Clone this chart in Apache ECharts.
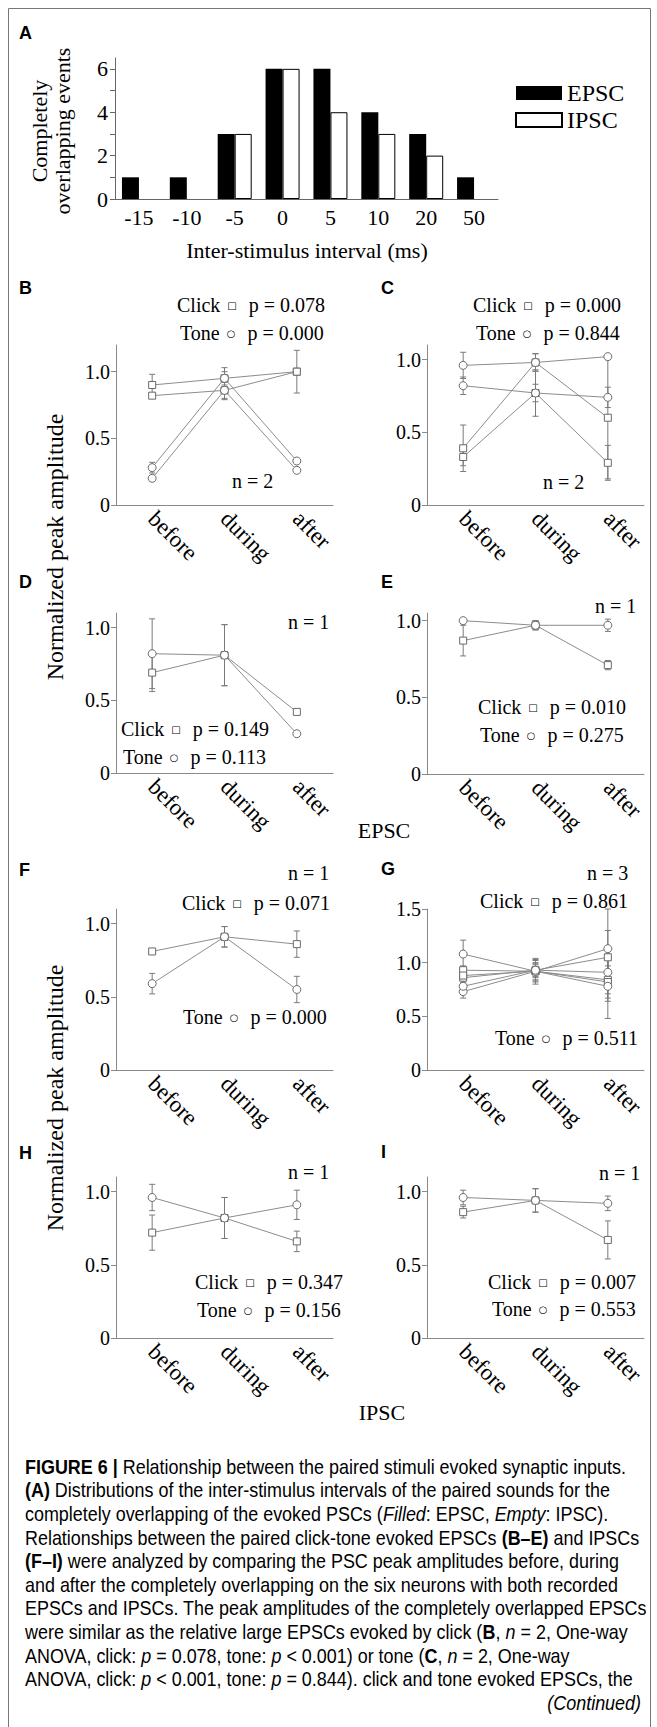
<!DOCTYPE html>
<html>
<head>
<meta charset="utf-8">
<script src="https://cdn.jsdelivr.net/npm/echarts@6/dist/echarts.min.js"></script>
<style>
html, body { margin: 0; padding: 0; background: #fff; }
#fig { width: 657px; height: 1727px; }
</style>
</head>
<body>
<div id="fig"></div>
<script>
// panel A: completely overlapping events per inter-stimulus interval
var intervals = ['-15', '-10', '-5', '0', '5', '10', '20', '50'];
var epscCounts = [1, 1, 3, 6, 6, 4, 3, 1];
var ipscCounts = [0, 0, 3, 6, 4, 3, 2, 0];

var phases = ['before', 'during', 'after'];

// panels B-I: normalized peak amplitude (one row per neuron) and error
var bClick = [[0.90, 0.95, 1.00], [0.82, 0.86, 1.00]];
var bClickErr = [[0.08, 0.08, 0.16], [0.02, 0.07, 0.02]];
var bTone = [[0.28, 0.95, 0.33], [0.20, 0.86, 0.26]];
var bToneErr = [[0.04, 0.05, 0.01], [0.02, 0.06, 0.01]];

var cClick = [[0.39, 0.98, 0.60], [0.33, 0.77, 0.29]];
var cClickErr = [[0.16, 0.06, 0.42], [0.06, 0.16, 0.12]];
var cTone = [[0.96, 0.98, 1.02], [0.82, 0.77, 0.74]];
var cToneErr = [[0.09, 0.06, 0.01], [0.06, 0.06, 0.07]];

var dClick = [[0.69, 0.81, 0.42]];
var dClickErr = [[0.13, 0.21, 0]];
var dTone = [[0.82, 0.81, 0.27]];
var dToneErr = [[0.24, 0.21, 0]];

var eClick = [[0.87, 0.97, 0.71]];
var eClickErr = [[0.10, 0.03, 0.03]];
var eTone = [[1.00, 0.97, 0.97]];
var eToneErr = [[0, 0.03, 0.04]];

var fClick = [[0.81, 0.91, 0.86]];
var fClickErr = [[0.02, 0.07, 0.09]];
var fTone = [[0.59, 0.91, 0.55]];
var fToneErr = [[0.07, 0.07, 0.09]];

var gClick = [[0.93, 0.92, 0.84], [0.86, 0.93, 1.05], [0.88, 0.92, 0.82]];
var gClickErr = [[0.04, 0.08, 0.20], [0.05, 0.10, 0.25], [0.03, 0.06, 0.15]];
var gTone = [[1.08, 0.92, 0.78], [0.73, 0.92, 1.13], [0.78, 0.93, 0.91]];
var gToneErr = [[0.13, 0.10, 0.30], [0.06, 0.12, 0.37], [0.04, 0.06, 0.20]];

var hClick = [[0.72, 0.82, 0.66]];
var hClickErr = [[0.12, 0.14, 0.07]];
var hTone = [[0.96, 0.82, 0.91]];
var hToneErr = [[0.09, 0.14, 0.10]];

var iClick = [[0.86, 0.94, 0.67]];
var iClickErr = [[0.04, 0.08, 0.13]];
var iTone = [[0.96, 0.94, 0.92]];
var iToneErr = [[0.05, 0.08, 0.05]];

// p values / n per panel
var pClick = ['0.078', '0.000', '0.149', '0.010', '0.071', '0.861', '0.347', '0.007'];
var pTone = ['0.000', '0.844', '0.113', '0.275', '0.000', '0.511', '0.156', '0.553'];
var nCells = [2, 2, 1, 1, 1, 3, 1, 1];

var SERIF = '"Liberation Serif", "Times New Roman", serif';
var SANS = '"Liberation Sans", Arial, sans-serif';
var AXIS = '#8a8a8a';

// layout of the small panels (B..I)
var panels = [
    { left: 116, top: 345, h: 160, max: 1.2, click: bClick, clickErr: bClickErr, tone: bTone, toneErr: bToneErr },
    { left: 427, top: 345, h: 160, max: 1.1, click: cClick, clickErr: cClickErr, tone: cTone, toneErr: cToneErr },
    { left: 116, top: 613, h: 160, max: 1.1, click: dClick, clickErr: dClickErr, tone: dTone, toneErr: dToneErr },
    { left: 427, top: 613, h: 161, max: 1.05, click: eClick, clickErr: eClickErr, tone: eTone, toneErr: eToneErr },
    { left: 116, top: 909, h: 161, max: 1.1, click: fClick, clickErr: fClickErr, tone: fTone, toneErr: fToneErr },
    { left: 427, top: 909, h: 161, max: 1.5, click: gClick, clickErr: gClickErr, tone: gTone, toneErr: gToneErr },
    { left: 116, top: 1177, h: 161, max: 1.1, click: hClick, clickErr: hClickErr, tone: hTone, toneErr: hToneErr },
    { left: 427, top: 1177, h: 161, max: 1.1, click: iClick, clickErr: iClickErr, tone: iTone, toneErr: iToneErr }
];

// where the stats texts go: [clickX, clickY, toneX, toneY, nX, nY]
var statPos = [
    [177, 305, 180, 333, 232, 481],
    [473, 305, 476, 333, 543, 482],
    [121, 729, 123, 757, 288, 622],
    [478, 707, 480, 735, 595, 606],
    [182, 903, 183, 1017, 288, 873],
    [480, 901, 495, 1038, 587, 873],
    [195, 1282, 197, 1310, 288, 1172],
    [488, 1282, 492, 1309, 599, 1173]
];

var captionLines = [
    '{b|FIGURE 6 |}{r| Relationship between the paired stimuli evoked synaptic inputs.}',
    '{b|(A)}{r| Distributions of the inter-stimulus intervals of the paired sounds for the}',
    '{r|completely overlapping of the evoked PSCs (}{i|Filled}{r|: EPSC, }{i|Empty}{r|: IPSC).}',
    '{r|Relationships between the paired click-tone evoked EPSCs }{b|(B–E)}{r| and IPSCs}',
    '{b|(F–I)}{r| were analyzed by comparing the PSC peak amplitudes before, during}',
    '{r|and after the completely overlapping on the six neurons with both recorded}',
    '{r|EPSCs and IPSCs. The peak amplitudes of the completely overlapped EPSCs}',
    '{r|were similar as the relative large EPSCs evoked by click (}{b|B}{r|, }{i|n}{r| = 2, One-way}',
    '{r|ANOVA, click: }{i|p}{r| = 0.078, tone: }{i|p}{r| < 0.001) or tone (}{b|C}{r|, }{i|n}{r| = 2, One-way}',
    '{r|ANOVA, click: }{i|p}{r| < 0.001, tone: }{i|p}{r| = 0.844). click and tone evoked EPSCs, the}'
];

var chart = echarts.init(document.getElementById('fig'), null, { renderer: 'svg' });

var grids = [{ left: 115, top: 58, width: 383, height: 141, outerBoundsMode: 'none' }];
var xAxes = [{
    type: 'category', gridIndex: 0, data: intervals,
    axisLine: { lineStyle: { color: '#666' } },
    axisTick: { show: false },
    axisLabel: { fontFamily: SERIF, fontSize: 22, color: '#000', margin: 7, interval: 0 }
}];
var yAxes = [{
    type: 'value', gridIndex: 0, min: 0, max: 6.5,
    splitLine: { show: false },
    axisLine: { show: true, lineStyle: { color: '#666' } },
    axisTick: { show: true, length: 5, customValues: [0, 1, 2, 3, 4, 5, 6], lineStyle: { color: '#666' } },
    axisLabel: { customValues: [0, 2, 4, 6], fontFamily: SERIF, fontSize: 22, color: '#000', margin: 7 }
}];
var series = [
    { type: 'bar', name: 'EPSC', xAxisIndex: 0, yAxisIndex: 0, data: epscCounts, barWidth: 17, barGap: '0%',
      itemStyle: { color: '#000' } },
    { type: 'bar', name: 'IPSC', xAxisIndex: 0, yAxisIndex: 0, data: ipscCounts.map(function (v) { return v || '-'; }),
      barWidth: 17, barGap: '0%', itemStyle: { color: '#fff', borderColor: '#000', borderWidth: 1 } }
];

function errorSeries(gi, vals, errs) {
    return {
        type: 'custom', xAxisIndex: gi, yAxisIndex: gi, z: 1, silent: true,
        encode: { x: 0, y: [1, 2] },
        data: vals.map(function (v, i) { return [i, v - errs[i], v + errs[i]]; }),
        renderItem: function (params, api) {
            var lo = api.coord([api.value(0), api.value(1)]);
            var hi = api.coord([api.value(0), api.value(2)]);
            var st = { stroke: '#7a7a7a', lineWidth: 1 };
            return { type: 'group', children: [
                { type: 'line', shape: { x1: lo[0], y1: lo[1], x2: hi[0], y2: hi[1] }, style: st },
                { type: 'line', shape: { x1: lo[0] - 3, y1: lo[1], x2: lo[0] + 3, y2: lo[1] }, style: st },
                { type: 'line', shape: { x1: hi[0] - 3, y1: hi[1], x2: hi[0] + 3, y2: hi[1] }, style: st }
            ] };
        }
    };
}

function lineSeries(gi, vals, symbol) {
    return {
        type: 'line', xAxisIndex: gi, yAxisIndex: gi, data: vals, z: 3, silent: true,
        symbol: symbol, symbolSize: symbol === 'rect' ? 7 : 8, showAllSymbol: true,
        lineStyle: { color: '#8c8c8c', width: 1 },
        itemStyle: { color: '#fff', borderColor: '#6a6a6a', borderWidth: 1 }
    };
}

panels.forEach(function (p, k) {
    var gi = k + 1;
    grids.push({ left: p.left, top: p.top, width: 217, height: p.h, outerBoundsMode: 'none' });
    var ticks = p.max >= 1.5 ? [0, 0.5, 1, 1.5] : [0, 0.5, 1];
    xAxes.push({
        type: 'category', gridIndex: gi, data: phases, boundaryGap: true,
        axisLine: { lineStyle: { color: AXIS } },
        axisTick: { alignWithLabel: true, length: 5, lineStyle: { color: AXIS } },
        axisLabel: { rotate: -45, margin: 10, interval: 0, fontFamily: SERIF, fontSize: 23, color: '#000' }
    });
    yAxes.push({
        type: 'value', gridIndex: gi, min: 0, max: p.max,
        splitLine: { show: false },
        axisLine: { show: true, lineStyle: { color: AXIS } },
        axisTick: { show: true, length: 5, customValues: ticks, lineStyle: { color: AXIS } },
        axisLabel: {
            customValues: ticks, fontFamily: SERIF, fontSize: 20, color: '#000', margin: 6,
            formatter: function (v) { return v === 0 ? '0' : v.toFixed(1); }
        }
    });
    p.click.forEach(function (row, r) {
        series.push(errorSeries(gi, row, p.clickErr[r]));
        series.push(lineSeries(gi, row, 'rect'));
    });
    p.tone.forEach(function (row, r) {
        series.push(errorSeries(gi, row, p.toneErr[r]));
        series.push(lineSeries(gi, row, 'circle'));
    });
});

function txt(x, y, text, extra) {
    var st = { text: text, fontFamily: SERIF, fontSize: 20, fill: '#000',
               align: 'left', verticalAlign: 'middle', textAlign: 'left', textVerticalAlign: 'middle' };
    for (var key in extra) st[key] = extra[key];
    return { type: 'text', x: x, y: y, silent: true, style: st };
}
function vtxt(x, y, text, size) {
    var el = txt(x, y, text, { align: 'center', textAlign: 'center', fontSize: size });
    el.rotation = Math.PI / 2;
    return el;
}
var symRich = {
    t: { fontFamily: SERIF, fontSize: 20, color: '#000' },
    s: { fontFamily: '"DejaVu Sans", sans-serif', fontSize: 10, color: '#333', padding: [0, 2, 0, 2] }
};
function statTxt(x, y, label, sym, pv) {
    return txt(x, y, '{t|' + label + ' }{s|' + sym + '}{t|  p = ' + pv + '}', { rich: symRich });
}

var graphics = [
    { type: 'rect', silent: true, shape: { x: 8.5, y: 8.5, width: 642, height: 1760 },
      style: { fill: 'none', stroke: '#777', lineWidth: 1 } }
];
var letters = [['A', 19, 33], ['B', 19, 288], ['C', 381, 288], ['D', 19, 582], ['E', 381, 582],
               ['F', 19, 870], ['G', 381, 869], ['H', 19, 1153], ['I', 381, 1152]];
letters.forEach(function (l) {
    graphics.push(txt(l[1], l[2], l[0], { fontFamily: SANS, fontSize: 18, fontWeight: 'bold' }));
});
graphics.push(vtxt(39, 131, 'Completely', 22));
graphics.push(vtxt(62, 131, 'overlapping events', 22));
graphics.push(txt(307, 250, 'Inter-stimulus interval (ms)', { align: 'center', textAlign: 'center', fontSize: 22 }));
graphics.push(vtxt(55, 547, 'Normalized peak amplitude', 24));
graphics.push(vtxt(55, 1098, 'Normalized peak amplitude', 24));
graphics.push(txt(384, 830, 'EPSC', { align: 'center', textAlign: 'center', fontSize: 22 }));
graphics.push(txt(382, 1412, 'IPSC', { align: 'center', textAlign: 'center', fontSize: 22 }));
statPos.forEach(function (s, k) {
    graphics.push(statTxt(s[0], s[1], 'Click', '□', pClick[k]));
    graphics.push(statTxt(s[2], s[3], 'Tone', '○', pTone[k]));
    graphics.push(txt(s[4], s[5], 'n = ' + nCells[k]));
});
// caption: the original uses a condensed sans, so squeeze a regular one
var capRich = {
    r: { fontFamily: SANS, fontSize: 20, color: '#3a3a3a' },
    b: { fontFamily: SANS, fontSize: 20, color: '#1a1a1a', fontWeight: 'bold' },
    i: { fontFamily: SANS, fontSize: 20, color: '#3a3a3a', fontStyle: 'italic' }
};
captionLines.forEach(function (line, k) {
    var el = txt(25, 1467 + k * 23.6, line, { rich: capRich });
    el.scaleX = 0.897;
    graphics.push(el);
});
var cont = txt(641, 1703, '{i|(Continued)}', { rich: capRich, align: 'right', textAlign: 'right' });
cont.scaleX = 0.897;
graphics.push(cont);

chart.setOption({
    animation: false,
    backgroundColor: '#fff',
    grid: grids,
    xAxis: xAxes,
    yAxis: yAxes,
    legend: {
        left: 510, top: 76, orient: 'vertical', itemWidth: 46, itemHeight: 14, itemGap: 3,
        icon: 'rect', selectedMode: false, data: ['EPSC', 'IPSC'],
        textStyle: { fontFamily: SERIF, fontSize: 24, color: '#000', lineHeight: 22 }
    },
    series: series,
    graphic: graphics
});
</script>
</body>
</html>
